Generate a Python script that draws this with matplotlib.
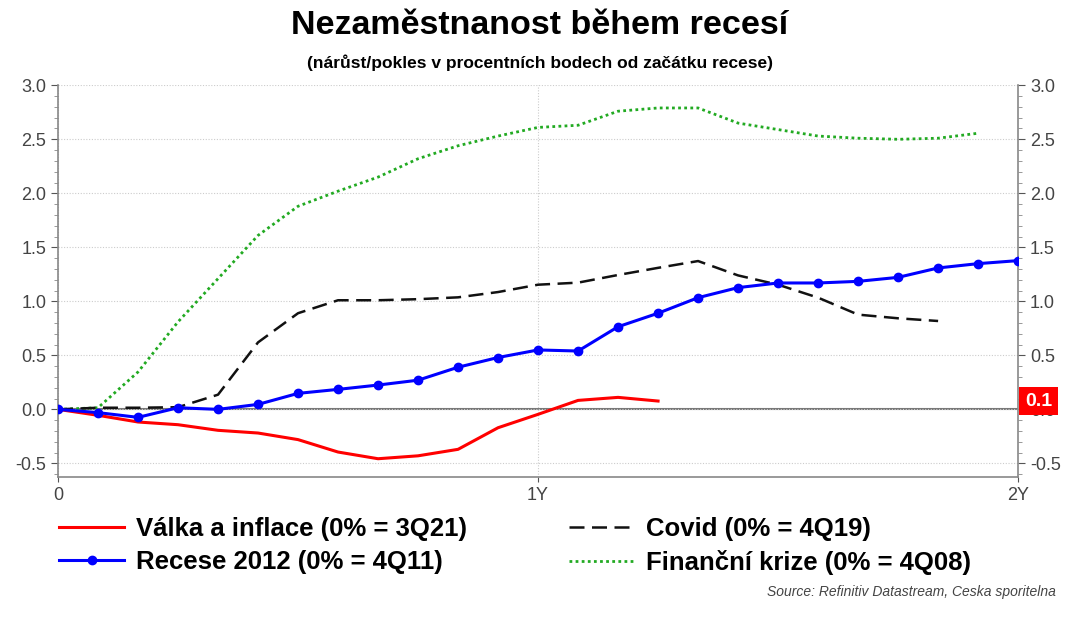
import numpy as np
import matplotlib
matplotlib.use("Agg")
import matplotlib.pyplot as plt
from matplotlib.ticker import MultipleLocator

plt.rcParams['font.family'] = ['Liberation Sans', 'DejaVu Sans']

# months since start of recession
valka = [0.0, -0.055, -0.117, -0.142, -0.194, -0.219, -0.28, -0.395, -0.457,
         -0.43, -0.37, -0.17, -0.046, 0.083, 0.111, 0.077]
recese = [0.0, -0.03, -0.074, 0.015, 0.0, 0.046, 0.148, 0.185, 0.225, 0.27,
          0.39, 0.48, 0.55, 0.54, 0.765, 0.89, 1.034, 1.127, 1.17, 1.17,
          1.185, 1.222, 1.309, 1.349, 1.377]
covid = [0.0, 0.015, 0.015, 0.02, 0.136, 0.62, 0.89, 1.01, 1.01, 1.02, 1.037,
         1.086, 1.154, 1.173, 1.244, 1.31, 1.373, 1.24, 1.154, 1.034, 0.877,
         0.843, 0.818]
krize = [0.0, 0.015, 0.346, 0.81, 1.21, 1.61, 1.88, 2.02, 2.15, 2.32, 2.44,
         2.53, 2.61, 2.63, 2.76, 2.79, 2.79, 2.65, 2.59, 2.53, 2.51, 2.5,
         2.51, 2.556]

labels = ["Válka a inflace (0% = 3Q21)", "Recese 2012 (0% = 4Q11)",
          "Covid (0% = 4Q19)", "Finanční krize (0% = 4Q08)"]
xtick_pos = [0, 12, 24]
xtick_lab = ["0", "1Y", "2Y"]

fig = plt.figure(figsize=(10.8, 6.18), dpi=100)
ax = fig.add_axes([0.0537, 0.228, 0.889, 0.634])

grey = "#555555"
ax.axhline(0, color="#777777", lw=1.5, zorder=1)
l1, = ax.plot(range(len(valka)), valka, color="#ff0000", lw=2.2, zorder=4)
l2, = ax.plot(range(len(recese)), recese, color="#0000ff", lw=2.2,
              marker="o", ms=6, zorder=5)
l3, = ax.plot(range(len(covid)), covid, color="#111111", lw=1.8,
              dashes=(6, 3), zorder=3)
l4, = ax.plot(range(len(krize)), krize, color="#22aa22", lw=2,
              linestyle=(0, (1, 1.2)), zorder=2)

ax.set_xlim(0, 24)
ax.set_ylim(-0.627, 3.0)
ax.set_xticks(xtick_pos)
ax.set_xticklabels(xtick_lab)
ax.yaxis.set_major_locator(MultipleLocator(0.5))
ax.yaxis.set_minor_locator(MultipleLocator(0.1))
ax.yaxis.set_major_formatter(matplotlib.ticker.FormatStrFormatter("%.1f"))
ax.tick_params(axis="both", colors=grey, labelsize=13, labelcolor="#444444")
ax.tick_params(axis="y", which="both", left=True, right=True,
               labelleft=True, labelright=True, direction="out")
ax.tick_params(axis="y", which="major", length=5)
ax.tick_params(axis="y", which="minor", length=3, color="#888888")
ax.grid(True, axis="both", color="#cccccc", linestyle=(0, (1, 1.5)), lw=0.8)
ax.spines["top"].set_visible(False)
for s in ["left", "right", "bottom"]:
    ax.spines[s].set_color("#888888")
    ax.spines[s].set_linewidth(1.2)

# last value marker for Válka a inflace on the right axis (covers the 0.0 label)
ax.annotate("%.1f" % valka[-1], xy=(1.0, valka[-1]),
            xycoords=("axes fraction", "data"), xytext=(5, 0),
            textcoords="offset points", ha="left", va="center",
            color="white", fontsize=14, fontweight="bold", zorder=10,
            bbox=dict(boxstyle="square,pad=0.3", fc="#ff0000", ec="none"))

fig.text(0.5, 0.958, "Nezaměstnanost během recesí", ha="center", va="center",
         fontsize=24.5, fontweight="bold")
fig.text(0.5, 0.899, "(nárůst/pokles v procentních bodech od začátku recese)",
         ha="center", va="center", fontsize=12.5, fontweight="bold")

leg_kw = dict(loc="upper left", frameon=False, borderpad=0, borderaxespad=0,
              prop=dict(size=18.5, weight="bold"), handlelength=2.5,
              labelspacing=0.35, handletextpad=0.5)
fig.legend([l1, l2], labels[:2], bbox_to_anchor=(0.055, 0.163), **leg_kw)
fig.legend([l3, l4], labels[2:], bbox_to_anchor=(0.527, 0.163), **leg_kw)

fig.text(0.978, 0.042, "Source: Refinitiv Datastream, Ceska sporitelna",
         ha="right", va="center", fontsize=10, style="italic", color="#444444")

fig.savefig("out.png", dpi=100)
